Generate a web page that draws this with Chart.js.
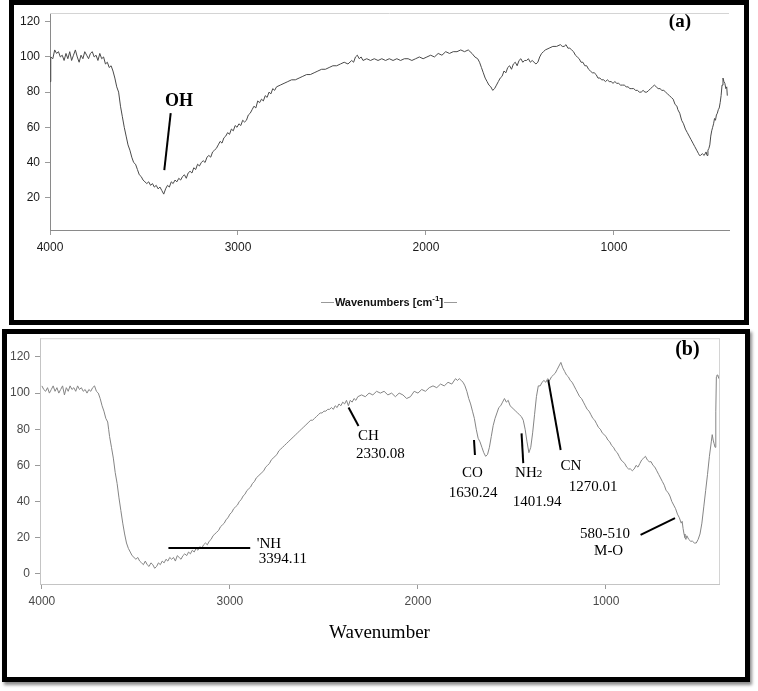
<!DOCTYPE html>
<html lang="en">
<head>
<meta charset="UTF-8">
<title>FTIR spectra (a) and (b)</title>
<script src="https://cdn.jsdelivr.net/npm/chart.js"></script>
<style>
    body { margin: 0; background: #fff; width: 758px; height: 691px; overflow: hidden; }
    .wrap { position: absolute; }
    .panel { position: absolute; box-sizing: border-box; border: 5px solid #000; z-index: 3; pointer-events: none; }
    #panelA { left: 9px; top: 0; width: 740px; height: 325px; }
    #panelB { left: 2px; top: 329px; width: 748px; height: 353px; box-shadow: 2px 3px 3px rgba(0,0,0,0.45); }
    #wrapA { left: 0; top: 0; width: 758px; height: 325px; }
    #wrapB { left: 0; top: 326px; width: 758px; height: 360px; }
    #titleA {
        position: absolute; left: 321px; top: 294px; width: 136px; height: 16px;
        text-align: center; font: bold 11px 'Liberation Sans', Arial, sans-serif; line-height: 16px; color: #111;
        background: linear-gradient(#999, #999) no-repeat 0 8px / 100% 1px;
    }
    #titleA span { background: #fff; padding: 0 1px; }
    #titleA sup { font-size: 8px; vertical-align: 5px; line-height: 0; }
</style>
</head>
<body>
<div class="panel" id="panelA"></div>
<div class="panel" id="panelB"></div>
<div class="wrap" id="wrapA"><canvas id="chartA"></canvas></div>
<div class="wrap" id="wrapB"><canvas id="chartB"></canvas></div>
<div id="titleA"><span>Wavenumbers [cm<sup>-1</sup>]</span></div>

<script>
// tick labels
var xTicks = [4000, 3000, 2000, 1000];
var yTicksA = [20, 40, 60, 80, 100, 120];
var yTicksB = [0, 20, 40, 60, 80, 100, 120];

// spectrum (a): wavenumber / transmittance
var wnA = [4000, 3996, 3985, 3975, 3965, 3955, 3945, 3935, 3925, 3915, 3905, 3895, 3885, 3875, 3865, 3855, 3845, 3835, 3825, 3815,
    3805, 3795, 3785, 3775, 3765, 3755, 3745, 3735, 3725, 3715, 3705, 3695, 3685, 3675, 3665, 3655, 3645, 3635, 3625, 3615,
    3605, 3595, 3585, 3575, 3565, 3555, 3545, 3535, 3525, 3515, 3505, 3495, 3485, 3475, 3465, 3455, 3445, 3435, 3425, 3415,
    3405, 3395, 3385, 3375, 3365, 3355, 3345, 3335, 3325, 3315, 3305, 3295, 3285, 3275, 3265, 3255, 3245, 3235, 3225, 3215,
    3205, 3195, 3185, 3175, 3165, 3155, 3145, 3135, 3125, 3115, 3105, 3095, 3085, 3075, 3065, 3055, 3045, 3035, 3025, 3015,
    3005, 2995, 2985, 2975, 2965, 2955, 2945, 2935, 2925, 2915, 2905, 2895, 2885, 2875, 2865, 2855, 2845, 2835, 2825, 2815,
    2805, 2795, 2775, 2755, 2735, 2715, 2695, 2675, 2655, 2635, 2615, 2595, 2575, 2555, 2535, 2515, 2495, 2475, 2455, 2435,
    2415, 2395, 2385, 2375, 2365, 2355, 2345, 2335, 2315, 2295, 2275, 2255, 2235, 2215, 2195, 2175, 2155, 2135, 2115, 2095,
    2075, 2055, 2035, 2015, 1995, 1975, 1955, 1935, 1915, 1895, 1875, 1855, 1835, 1815, 1795, 1775, 1755, 1740, 1725, 1715,
    1705, 1695, 1685, 1675, 1665, 1655, 1645, 1635, 1625, 1615, 1605, 1595, 1585, 1575, 1565, 1555, 1545, 1535, 1525, 1515,
    1505, 1495, 1485, 1475, 1465, 1455, 1445, 1435, 1425, 1415, 1405, 1395, 1385, 1375, 1365, 1345, 1325, 1305, 1285, 1275,
    1265, 1255, 1245, 1235, 1225, 1215, 1205, 1195, 1185, 1175, 1165, 1155, 1145, 1135, 1125, 1115, 1105, 1095, 1085, 1075,
    1065, 1055, 1045, 1035, 1025, 1015, 1005, 995, 985, 975, 965, 955, 945, 935, 925, 915, 905, 895, 885, 875,
    865, 855, 845, 835, 825, 815, 805, 795, 785, 775, 765, 755, 745, 735, 725, 715, 705, 695, 685, 675,
    665, 660, 650, 640, 630, 620, 610, 600, 590, 580, 570, 560, 550, 545, 540, 530, 520, 510, 505, 500,
    495, 490, 485, 480, 475, 470, 465, 460, 455, 450, 445, 440, 435, 430, 425, 420, 415, 410, 405, 400, 397];
var tA = [86, 100, 99, 104, 102, 103, 100, 101, 98, 102, 99, 103, 98, 101, 104, 100, 97, 101, 99, 103,
    101, 99, 102, 103, 100, 101, 98, 102, 99, 100, 96, 97, 94, 95, 92, 88, 83, 80, 72, 66,
    60, 55, 50, 47, 43, 40, 39, 36, 33, 32, 30, 29, 28, 29, 27, 28, 26, 27, 25, 26,
    24, 22, 25, 27, 26, 29, 28, 30, 29, 31, 30, 32, 33, 31, 34, 35, 34, 37, 36, 39,
    38, 40, 41, 40, 43, 44, 43, 46, 47, 48, 50, 52, 51, 54, 55, 57, 56, 59, 58, 61,
    60, 62, 61, 64, 63, 64, 67, 68, 70, 72, 71, 75, 74, 76, 75, 78, 77, 80, 79, 82,
    81, 83, 84, 85, 86, 87, 87, 88, 89, 90, 90, 91, 92, 93, 93, 94, 95, 95, 96, 97,
    96, 98, 97, 100, 101, 99, 100, 98, 99, 98, 99, 98, 99, 98, 99, 98, 99, 98, 99, 99,
    98, 99, 100, 99, 100, 101, 100, 102, 101, 103, 102, 103, 103, 104, 103, 104, 102, 100, 99, 97,
    94, 91, 88, 86, 84, 83, 81, 82, 84, 86, 88, 89, 92, 91, 94, 95, 93, 96, 97, 95,
    98, 99, 97, 98, 98, 99, 97, 98, 97, 96, 97, 100, 102, 103, 104, 105, 106, 106, 107, 106,
    106, 107, 105, 105, 104, 103, 101, 100, 99, 97, 97, 95, 95, 93, 92, 91, 91, 90, 88, 88,
    87, 87, 86, 87, 86, 86, 85, 86, 85, 85, 84, 84, 84, 83, 83, 82, 82, 82, 81, 81,
    80, 80, 81, 80, 80, 81, 82, 83, 84, 83, 82, 82, 81, 81, 80, 79, 78, 77, 76, 73,
    72, 70, 68, 64, 62, 59, 57, 55, 53, 51, 49, 47, 45, 44, 44, 45, 44, 46, 44, 47,
    48, 50, 55, 58, 60, 62, 65, 64, 67, 68, 70, 71, 74, 78, 84, 88, 86, 85, 82, 83, 78];

// spectrum (b): wavenumber / transmittance
var wnB = [4000, 3990, 3980, 3970, 3960, 3950, 3940, 3930, 3920, 3910, 3900, 3890, 3880, 3870, 3860, 3850, 3840, 3830, 3820, 3810,
    3800, 3790, 3780, 3770, 3760, 3750, 3740, 3730, 3720, 3710, 3700, 3690, 3680, 3670, 3660, 3650, 3645, 3640, 3630, 3620,
    3610, 3600, 3590, 3580, 3570, 3560, 3550, 3540, 3530, 3520, 3510, 3500, 3490, 3480, 3470, 3460, 3450, 3440, 3430, 3420,
    3410, 3400, 3390, 3380, 3370, 3360, 3350, 3340, 3330, 3320, 3310, 3300, 3290, 3280, 3270, 3260, 3250, 3240, 3230, 3220,
    3210, 3200, 3190, 3180, 3170, 3160, 3150, 3140, 3130, 3120, 3110, 3100, 3090, 3080, 3070, 3060, 3050, 3040, 3030, 3020,
    3010, 3000, 2990, 2980, 2970, 2960, 2950, 2940, 2930, 2920, 2910, 2900, 2890, 2880, 2870, 2860, 2850, 2840, 2830, 2820,
    2810, 2800, 2790, 2780, 2770, 2760, 2750, 2740, 2730, 2720, 2710, 2700, 2690, 2680, 2670, 2660, 2650, 2640, 2630, 2620,
    2610, 2600, 2590, 2580, 2570, 2560, 2550, 2540, 2530, 2520, 2510, 2500, 2490, 2480, 2470, 2460, 2450, 2440, 2430, 2420,
    2410, 2400, 2390, 2380, 2370, 2360, 2350, 2340, 2330, 2320, 2300, 2280, 2260, 2240, 2220, 2200, 2180, 2160, 2140, 2120,
    2100, 2080, 2060, 2040, 2020, 2000, 1980, 1960, 1940, 1920, 1900, 1880, 1860, 1840, 1820, 1800, 1790, 1780, 1770, 1760,
    1750, 1740, 1730, 1720, 1710, 1700, 1690, 1680, 1670, 1660, 1650, 1640, 1630, 1620, 1610, 1600, 1590, 1580, 1570, 1560,
    1550, 1540, 1530, 1520, 1510, 1500, 1490, 1480, 1470, 1460, 1450, 1440, 1430, 1420, 1410, 1400, 1390, 1380, 1370, 1360,
    1350, 1340, 1330, 1320, 1310, 1300, 1290, 1280, 1270, 1260, 1250, 1240, 1230, 1220, 1210, 1200, 1190, 1180, 1170, 1160,
    1150, 1140, 1130, 1120, 1110, 1100, 1090, 1080, 1070, 1060, 1050, 1040, 1030, 1020, 1010, 1000, 990, 980, 970, 960,
    950, 940, 930, 920, 910, 900, 890, 880, 870, 860, 850, 840, 830, 820, 810, 800, 790, 780, 770, 760,
    750, 740, 730, 720, 710, 700, 690, 680, 670, 660, 650, 640, 630, 620, 610, 600, 595, 590, 585, 580,
    575, 570, 560, 550, 540, 530, 520, 510, 500, 490, 480, 470, 460, 450, 440, 435, 430, 425, 420, 416,
    413, 410, 405, 400];
var tB = [104, 102, 101, 103, 100, 102, 104, 101, 103, 100, 102, 104, 99, 103, 101, 104, 102, 103, 101, 104,
    102, 103, 101, 102, 100, 102, 101, 103, 104, 101, 100, 97, 93, 90, 86, 84, 80, 76, 70, 64,
    56, 50, 42, 35, 28, 22, 17, 14, 12, 10, 9, 8, 9, 7, 6, 5, 7, 5, 4, 6,
    5, 3, 4, 6, 5, 7, 6, 8, 7, 9, 8, 9, 7, 10, 9, 8, 10, 11, 10, 12,
    11, 13, 12, 14, 13, 15, 14, 16, 17, 16, 18, 19, 21, 22, 23, 24, 26, 27, 28, 30,
    31, 33, 34, 36, 37, 38, 40, 41, 43, 44, 46, 47, 48, 50, 51, 53, 54, 55, 56, 57,
    59, 60, 61, 63, 64, 65, 66, 68, 69, 70, 71, 72, 73, 74, 75, 76, 77, 78, 79, 80,
    81, 82, 83, 84, 85, 85, 86, 87, 88, 89, 89, 90, 90, 91, 91, 92, 91, 93, 92, 94,
    93, 95, 94, 96, 93, 96, 95, 97, 96, 98, 99, 98, 100, 99, 101, 100, 101, 99, 100, 98,
    100, 99, 97, 98, 101, 100, 102, 101, 103, 104, 103, 105, 104, 106, 105, 108, 107, 108, 107, 106,
    104, 101, 97, 94, 90, 86, 80, 75, 73, 70, 67, 65, 66, 70, 76, 82, 86, 89, 92, 93,
    95, 97, 95, 96, 93, 92, 91, 90, 89, 88, 87, 85, 80, 73, 67, 70, 78, 88, 98, 104,
    104, 106, 107, 106, 108, 107, 109, 110, 111, 113, 115, 117, 114, 112, 110, 109, 107, 106, 104, 102,
    100, 98, 97, 95, 93, 91, 90, 88, 86, 85, 83, 81, 80, 78, 77, 76, 74, 73, 71, 70,
    68, 67, 65, 63, 62, 61, 59, 58, 58, 57, 58, 60, 59, 61, 63, 64, 65, 63, 62, 62,
    60, 59, 57, 55, 53, 51, 49, 46, 45, 43, 40, 38, 36, 33, 31, 28, 29, 25, 22, 20,
    19, 21, 19, 18, 18, 17, 17, 19, 22, 28, 37, 46, 55, 65, 73, 77, 74, 72, 70, 90,
    109, 110, 110, 108];

// band labels, placed in data units (wavenumber, %T)
var linesA = [[3358, 68, 3392, 35.7]];
var labelsA = [
    { text: 'OH', x: 3314, y: 74.9, font: 'bold 18px "Liberation Serif"' },
    { text: '(a)', x: 649, y: 120, font: 'bold 19px "Liberation Serif"' }
];
var linesB = [
    [2369, 92, 2316, 81.8],
    [1702, 74, 1697, 65.7],
    [1449, 77.7, 1440, 61.2],
    [1307, 107.2, 1241, 68.5],
    [3327, 14.2, 2892, 14.2],
    [816, 21.5, 633, 30.8]
];
var labelsB = [
    { text: 'CH', x: 2264, y: 76.2 },
    { text: '2330.08', x: 2200, y: 66.3 },
    { text: 'CO', x: 1711, y: 56 },
    { text: '1630.24', x: 1706, y: 44.8 },
    { text: 'NH', sub: '2', x: 1411, y: 56 },
    { text: '1401.94', x: 1366, y: 39.5 },
    { text: 'CN', x: 1187, y: 59.7 },
    { text: '1270.01', x: 1068, y: 47.8 },
    { text: '\'NH', x: 2857, y: 16.6, align: 'left' },
    { text: '3394.11', x: 2846, y: 8.3, align: 'left' },
    { text: '580-510', x: 1005, y: 22.1 },
    { text: 'M-O', x: 986, y: 12.7 },
    { text: '(b)', x: 567, y: 123.8, font: 'bold 20px "Liberation Serif"' }
];

// draws the band labels and the frame around the plot area
var annotate = {
    id: 'annotate',
    beforeDatasetsDraw: function (chart, args, opts) {
        var ctx = chart.ctx, a = chart.chartArea;
        ctx.save();
        ctx.strokeStyle = opts.frame;
        ctx.lineWidth = 1;
        ctx.beginPath();
        ctx.moveTo(a.left, a.top + 0.5);
        ctx.lineTo(a.right, a.top + 0.5);
        if (opts.rightEdge) {
            ctx.moveTo(a.right + 0.5, a.top);
            ctx.lineTo(a.right + 0.5, a.bottom);
        }
        ctx.stroke();
        ctx.restore();
    },
    afterDatasetsDraw: function (chart, args, opts) {
        var ctx = chart.ctx, x = chart.scales.x, y = chart.scales.y;
        ctx.save();
        ctx.strokeStyle = '#000';
        ctx.lineWidth = 2;
        opts.lines.forEach(function (l) {
            ctx.beginPath();
            ctx.moveTo(x.getPixelForValue(l[0]), y.getPixelForValue(l[1]));
            ctx.lineTo(x.getPixelForValue(l[2]), y.getPixelForValue(l[3]));
            ctx.stroke();
        });
        ctx.fillStyle = '#000';
        ctx.textBaseline = 'middle';
        opts.labels.forEach(function (t) {
            var px = x.getPixelForValue(t.x), py = y.getPixelForValue(t.y);
            ctx.font = t.font || '15px "Liberation Serif"';
            var w = ctx.measureText(t.text).width;
            var subW = 0;
            if (t.sub) {
                ctx.font = '11px "Liberation Serif"';
                subW = ctx.measureText(t.sub).width;
                ctx.font = t.font || '15px "Liberation Serif"';
            }
            var left = t.align === 'left' ? px : px - (w + subW) / 2;
            ctx.textAlign = 'left';
            ctx.fillText(t.text, left, py);
            if (t.sub) {
                ctx.font = '11px "Liberation Serif"';
                ctx.fillText(t.sub, left + w, py + 2);
            }
        });
        ctx.restore();
    }
};

function points(wn, t) {
    return wn.map(function (v, i) { return { x: v, y: t[i] }; });
}

function plain(v) { return String(v); }

function makeChart(id, o) {
    return new Chart(document.getElementById(id), {
        type: 'line',
        data: {
            datasets: [{
                data: points(o.wn, o.t),
                borderColor: o.lineColor,
                borderWidth: 1,
                pointRadius: 0,
                tension: 0,
                fill: false
            }]
        },
        plugins: [annotate],
        options: {
            responsive: true,
            maintainAspectRatio: false,
            animation: false,
            events: [],
            layout: { padding: o.padding },
            plugins: {
                legend: { display: false },
                tooltip: { enabled: false },
                annotate: { lines: o.lines, labels: o.labels, frame: '#d4d4d4', rightEdge: o.rightEdge }
            },
            scales: {
                x: {
                    type: 'linear',
                    reverse: true,
                    min: o.xMin,
                    max: o.xMax,
                    afterBuildTicks: function (s) { s.ticks = xTicks.map(function (v) { return { value: v }; }); },
                    afterFit: function (s) { s.height = o.xHeight; },
                    grid: { drawOnChartArea: false, tickLength: 5, color: '#9a9a9a' },
                    border: { color: o.axisColor },
                    ticks: {
                        color: o.tickColor, padding: 5, maxRotation: 0, callback: plain,
                        font: { family: '"Liberation Sans", Arial', size: 12 }
                    },
                    title: o.xTitle
                },
                y: {
                    min: o.yMin,
                    max: o.yMax,
                    afterBuildTicks: function (s) { s.ticks = o.yTicks.map(function (v) { return { value: v }; }); },
                    afterFit: function (s) { s.width = o.yWidth; },
                    grid: { drawOnChartArea: false, tickLength: 5, color: '#9a9a9a' },
                    border: { color: o.axisColor },
                    ticks: {
                        color: o.tickColor, padding: 5, callback: plain,
                        font: { family: '"Liberation Sans", Arial', size: 12 }
                    }
                }
            }
        }
    });
}

makeChart('chartA', {
    wn: wnA, t: tA, lineColor: '#4a4a4a',
    xMin: 388, xMax: 4000, yMin: 1.6, yMax: 125, yTicks: yTicksA,
    padding: { top: 13, right: 29, left: 0, bottom: 0 },
    xHeight: 95, yWidth: 50,
    axisColor: '#8a8a8a', tickColor: '#1a1a1a',
    lines: linesA, labels: labelsA, rightEdge: false,
    xTitle: { display: false }
});

makeChart('chartB', {
    wn: wnB, t: tB, lineColor: '#858585',
    xMin: 399, xMax: 4010, yMin: -5.7, yMax: 130.4, yTicks: yTicksB,
    padding: { top: 12, right: 39, left: 0, bottom: 0 },
    xHeight: 102, yWidth: 40,
    axisColor: '#c4c4c4', tickColor: '#4a4a4a',
    lines: linesB, labels: labelsB, rightEdge: true,
    xTitle: {
        display: true, text: 'Wavenumber', color: '#000',
        font: { family: '"Liberation Serif", "Times New Roman"', size: 19 },
        padding: { top: 0, bottom: 42 }
    }
});
</script>
</body>
</html>
